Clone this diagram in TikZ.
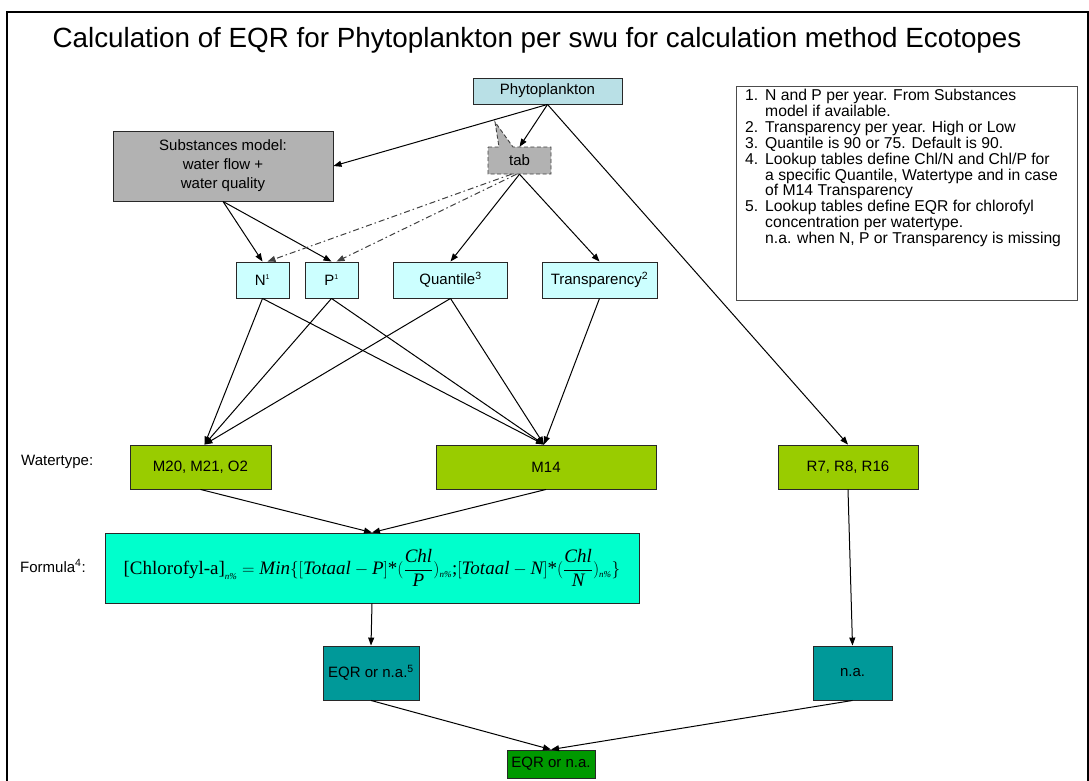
\documentclass[tikz,border=0pt]{standalone}
\usepackage{fontspec}
\setmainfont{Liberation Sans}
\newfontfamily\tnr{Liberation Serif}
\usetikzlibrary{arrows.meta,calc}
\definecolor{phyfill}{RGB}{185,224,230}
\definecolor{parfill}{RGB}{204,255,255}
\definecolor{subsfill}{RGB}{178,178,178}
\definecolor{wtfill}{RGB}{153,204,0}
\definecolor{formfill}{RGB}{0,255,204}
\definecolor{eqrfill}{RGB}{0,153,153}
\definecolor{finfill}{RGB}{0,153,0}
\definecolor{edgecol}{RGB}{40,40,40}
\newcommand\fmup[1]{\hbox{\tnr #1}}
\newcommand\fmit[1]{\hbox{\tnr\itshape #1}}
\newcommand\fmsub{\hbox{\tnr\itshape\fontsize{9}{10}\selectfont n\%}}
\begin{document}
\begin{tikzpicture}[x=1pt,y=-1pt,
  box/.style={draw=edgecol, line width=0.9pt, inner sep=0pt, align=center, font=\fontsize{15}{19}\selectfont},
  lbl/.style={inner sep=0pt, font=\fontsize{15}{19}\selectfont},
  arr/.style={draw=black, line width=1pt, -{Triangle[length=8pt,width=6pt]}},
  dd/.style={arr, dash pattern=on 6pt off 3pt on 1.5pt off 3pt, draw=black!75}
]
\useasboundingbox (0,0) rectangle (1089,780);
\fill[white] (0,0) rectangle (1089,780);
\draw[line width=1.5pt] (7,782) -- (7,12) -- (1088,12) -- (1088,782);
\node[font=\fontsize{27.8}{30}\selectfont, inner sep=0pt, anchor=base] (title) at (537,47) {Calculation of EQR for Phytoplankton per swu for calculation method Ecotopes};

% top nodes
\node[box, fill=phyfill, minimum width=149pt, minimum height=26pt] (phyto) at (547.5,91) {Phytoplankton};
\node[box, fill=subsfill, minimum width=220pt, minimum height=70pt] (subs) at (223,166) {Substances model:\\water flow +\\water quality};
% tab callout
\filldraw[fill=subsfill, draw=black!75, line width=0.9pt, dash pattern=on 4pt off 2.5pt]
  (488,147) -- (499,147) -- (495,122) -- (513,147) -- (551,147) -- (551,174) -- (488,174) -- cycle;
\node[lbl, minimum width=63pt, minimum height=27pt] (tab) at (519.5,160.5) {tab};

\node[box, fill=parfill, minimum width=53pt, minimum height=36pt] (N) at (262.5,280) {N\textsuperscript{\fontsize{7}{8}\selectfont 1}};
\node[box, fill=parfill, minimum width=53pt, minimum height=36pt] (P) at (331.5,280) {P\textsuperscript{\fontsize{7}{8}\selectfont 1}};
\node[box, fill=parfill, minimum width=114pt, minimum height=36pt] (Q) at (450.5,280) {Quantile\textsuperscript{3}};
\node[box, fill=parfill, minimum width=115pt, minimum height=36pt] (T) at (599.5,280) {Transparency\textsuperscript{2}};

% notes
\node[draw=black!70, line width=0.9pt, minimum width=341pt, minimum height=214pt, inner sep=0pt] (notes) at (906.5,193) {};
\node[anchor=north west, inner sep=0pt, align=left, font=\fontsize{15.7}{15.9}\selectfont] (notestext) at (745,89)
{\makebox[20pt][l]{1.}N and P per year. From Substances\\
\hspace*{20pt}model if available.\\
\makebox[20pt][l]{2.}Transparency per year. High or Low\\
\makebox[20pt][l]{3.}Quantile is 90 or 75. Default is 90.\\
\makebox[20pt][l]{4.}Lookup tables define Chl/N and Chl/P for\\
\hspace*{20pt}a specific Quantile, Watertype and in case\\
\hspace*{20pt}of M14 Transparency\\
\makebox[20pt][l]{5.}Lookup tables define EQR for chlorofyl\\
\hspace*{20pt}concentration per watertype.\\
\hspace*{20pt}n.a. when N, P or Transparency is missing};

% watertype row
\node[lbl, anchor=west] (wtlabel) at (21,462) {Watertype:};
\node[box, fill=wtfill, minimum width=141pt, minimum height=44pt] (M20) at (200.5,467) {M20, M21, O2};
\node[box, fill=wtfill, minimum width=220pt, minimum height=44pt] (M14) at (546,467) {M14};
\node[box, fill=wtfill, minimum width=140pt, minimum height=44pt] (R7) at (848,467) {R7, R8, R16};

% formula row
\node[lbl, anchor=west] (flabel) at (20,566) {Formula\textsuperscript{4}:};
\node[box, fill=formfill, minimum width=534pt, minimum height=70pt] (formula) at (372,568)
{\fontsize{19}{22}\selectfont $\displaystyle \fmup{[Chlorofyl-a]}_{\fmsub} = \fmit{Min}\{[\fmit{Totaal} - \fmit{P}]\fmup{*}(\frac{\fmit{Chl}}{\fmit{P}})_{\fmsub}\fmup{;}[\fmit{Totaal} - \fmit{N}]\fmup{*}(\frac{\fmit{Chl}}{\fmit{N}})_{\fmsub}\}$};

% results
\node[box, fill=eqrfill, minimum width=96pt, minimum height=54pt] (EQR) at (371,673) {EQR or n.a.\textsuperscript{5}};
\node[box, fill=eqrfill, minimum width=79pt, minimum height=54pt] (na) at (852.5,673) {n.a.};
\node[box, fill=finfill, minimum width=88pt, minimum height=28pt] (final) at (551,764) {EQR or n.a.};

% connectors
\draw[arr] (phyto.south) -- (subs.east);
\draw[arr] (phyto.south) -- (tab.north);
\draw[arr] (phyto.south) -- (R7.north);
\draw[arr] (subs.south) -- (N.north);
\draw[arr] (subs.south) -- (P.north);
\draw[dd] ([xshift=-8pt]tab.south) -- ([xshift=5pt]N.north);
\draw[dd] ([xshift=-3pt]tab.south) -- ([xshift=5pt]P.north);
\draw[arr] (tab.south) -- (Q.north);
\draw[arr] (tab.south) -- (T.north);
\coordinate (m20in) at ([xshift=4pt]M20.north);
\coordinate (m14in) at ([xshift=-2pt]M14.north);
\foreach \s in {N,P,Q} {\draw[arr] (\s.south) -- (m20in);}
\foreach \s in {N,P,Q,T} {\draw[arr] (\s.south) -- (m14in);}
\draw[arr] (M20.south) -- (formula.north);
\draw[arr] (M14.south) -- (formula.north);
\draw[arr] (formula.south) -- (EQR.north);
\draw[arr] (R7.south) -- (na.north);
\draw[arr] (EQR.south) -- (final.north);
\draw[arr] (na.south) -- (final.north);
\end{tikzpicture}
\end{document}
